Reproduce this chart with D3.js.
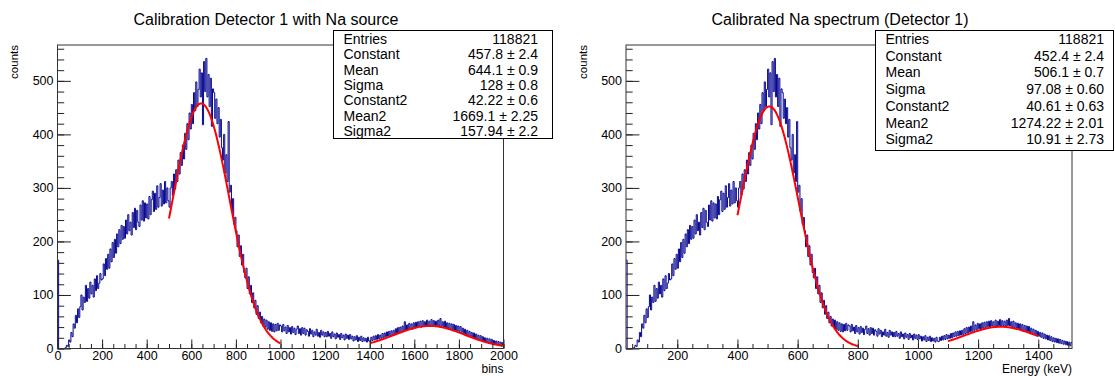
<!DOCTYPE html>
<html><head><meta charset="utf-8">
<script src="https://cdn.jsdelivr.net/npm/d3@7/dist/d3.min.js"></script>
<style>body{margin:0;background:#fff}svg{display:block;font-family:"Liberation Sans",Arial,Helvetica,sans-serif}</style>
</head><body><svg id="c" width="1115" height="376"></svg>
<script>
// ---------------- data ----------------
const binWidth = 5;           // bin units per value below
const counts = [
165,0,0,0,0,0,0,2,6,4,16,12,30,22,46,38,62,48,74,58,
78,100,72,96,86,118,88,112,94,124,102,118,96,130,108,136,112,122,140,128,
130,158,136,168,148,176,150,186,162,198,170,204,178,214,190,222,196,230,204,228,
206,240,214,250,220,236,212,254,226,262,222,258,236,228,268,240,276,238,272,244,
270,242,284,250,278,294,256,290,260,304,264,282,308,266,296,270,312,272,300,276,
264,300,312,286,326,298,334,312,352,326,366,342,380,354,402,372,420,390,440,410,
456,420,478,444,498,452,484,522,470,515,418,536,480,542,470,512,452,505,415,485,
478,430,466,420,450,395,428,375,352,400,328,362,312,424,292,305,256,280,232,245,
220,190,212,172,192,156,176,142,132,150,112,134,102,118,86,104,76,90,64,80,
56,68,48,60,42,55,40,53,36,50,34,48,32,46,31,45,33,47,34,44,
42,31,45,33,40,28,43,31,39,27,41,30,38,26,36,42,28,37,25,39,
28,38,25,35,32,23,37,27,34,22,31,25,36,23,30,21,34,25,31,22,
30,22,32,23,28,19,31,22,27,18,29,21,26,17,28,20,25,16,27,19,
25,17,26,18,23,14,22,16,24,13,21,15,23,13,20,14,19,12,21,14,
13,21,15,23,16,24,17,26,18,25,19,28,20,29,22,31,23,32,24,33,
25,34,26,37,28,39,29,40,31,42,32,50,34,44,35,47,37,46,36,48,
38,49,39,50,41,51,40,52,42,50,41,53,42,51,43,54,42,52,43,51,
42,53,43,56,42,50,40,51,39,48,38,47,37,46,35,45,34,43,33,42,
32,41,30,38,28,36,26,34,24,32,23,30,21,29,19,27,18,25,16,24,
15,22,13,20,12,19,11,18,10,17,9,15,8,14,7,13,6,12,5,11
];
const calib = [0.7413, 29.5];            // energy = slope*bin + offset

const leftFitConst = [457.8, 42.22];
const leftFitMean  = [644.1, 1669.1];
const leftFitSigma = [128, 157.94];
const leftFitRange = [[500, 1000], [1400, 2000]];

const rightFitConst = [452.4, 40.61];
const rightFitMean  = [506.1, 1274.22];
const rightFitSigma = [97.08, 118];
const rightFitRange = [[400, 800], [1100, 1400]];

const statNames  = ["Entries","Constant","Mean","Sigma","Constant2","Mean2","Sigma2"];
const statsLeft  = ["118821","457.8 \u00b1 2.4","644.1 \u00b1 0.9","128 \u00b1 0.8","42.22 \u00b1 0.6","1669.1 \u00b1 2.25","157.94 \u00b1 2.2"];
const statsRight = ["118821","452.4 \u00b1 2.4","506.1 \u00b1 0.7","97.08 \u00b1 0.60","40.61 \u00b1 0.63","1274.22 \u00b1 2.01","10.91 \u00b1 2.73"];

const yMajor = [0,100,200,300,400,500];
const yMinor = d3.range(0, 561, 20);
const xMajorLeft = [0,200,400,600,800,1000,1200,1400,1600,1800,2000];
const xMinorLeft = d3.range(0, 2001, 50);
const xMajorRight = [200,400,600,800,1000,1200,1400];
const xMinorRight = d3.range(50, 1501, 50);

// ---------------- drawing ----------------
const svg = d3.select("#c");
const plotTop = 45, plotBottom = 348.5;
const y = d3.scaleLinear().domain([0, 567]).range([plotBottom, plotTop]);
const nBins = counts.length;

function gauss(c, m, s) { return x => c * Math.exp(-0.5 * ((x - m) / s) ** 2); }

function panel(opt) {
  const g = svg.append("g");
  const x = d3.scaleLinear().domain(opt.domain).range([opt.x0, opt.x1]);
  const W = opt.x1 - opt.x0, H = plotBottom - plotTop;
  const clipId = "clip" + opt.id;
  svg.append("clipPath").attr("id", clipId).append("rect")
    .attr("x", opt.x0).attr("y", plotTop).attr("width", W).attr("height", H);

  // histogram (step line)
  const pts = counts.map((v, i) => [opt.toX(i * binWidth), v]);
  pts.push([opt.toX(nBins * binWidth), counts[nBins - 1]]);
  const line = d3.line().x(d => x(d[0])).y(d => y(d[1])).curve(d3.curveStepAfter);
  g.append("path").attr("d", line(pts)).attr("fill", "none")
    .attr("stroke", "#050590").attr("stroke-width", 1).attr("clip-path", `url(#${clipId})`);

  // fits
  opt.fits.forEach(f => {
    const fn = gauss(f.c, f.m, f.s);
    const xs = d3.range(f.r[0], f.r[1] + 0.001, (f.r[1] - f.r[0]) / 100);
    g.append("path").attr("d", d3.line().x(d => x(d)).y(d => y(fn(d)))(xs))
      .attr("fill", "none").attr("stroke", "#ff0000").attr("stroke-width", 2)
      .attr("clip-path", `url(#${clipId})`);
  });

  // axes
  const txtStyle = s => s.attr("font-size", 12.5).attr("fill", "#000")
      .attr("font-family", '"Liberation Sans",Arial,sans-serif');
  const xa = g.append("g").attr("transform", `translate(0,${plotBottom})`)
    .call(d3.axisBottom(x).tickValues(opt.xMajor).tickSize(-9).tickPadding(3).tickFormat(d3.format("d")));
  xa.select(".domain").remove();
  xa.selectAll("text").call(txtStyle);
  const xm = g.append("g").attr("transform", `translate(0,${plotBottom})`)
    .call(d3.axisBottom(x).tickValues(opt.xMinor).tickSize(-4.5).tickFormat(""));
  xm.select(".domain").remove();
  const ya = g.append("g").attr("transform", `translate(${opt.x0},0)`)
    .call(d3.axisLeft(y).tickValues(yMajor).tickSize(-13.4).tickPadding(4));
  ya.select(".domain").remove();
  ya.selectAll("text").call(txtStyle);
  const ym = g.append("g").attr("transform", `translate(${opt.x0},0)`)
    .call(d3.axisLeft(y).tickValues(yMinor).tickSize(-6.7).tickFormat(""));
  ym.select(".domain").remove();
  g.selectAll(".tick line").attr("stroke", "#222");

  // frame
  g.append("rect").attr("x", opt.x0).attr("y", plotTop).attr("width", W).attr("height", H)
    .attr("fill", "none").attr("stroke", "#333").attr("stroke-width", 1);

  // titles and labels
  g.append("text").attr("x", opt.titleX).attr("y", 25).attr("text-anchor", "middle")
    .attr("font-size", 16).text(opt.title);
  g.append("text").attr("transform", `translate(${opt.x0 - 39.5},${plotTop}) rotate(-90)`)
    .attr("text-anchor", "end").attr("font-size", 11.5).text("counts");
  g.append("text").attr("x", opt.x1).attr("y", 373).attr("text-anchor", "end")
    .attr("font-size", 12).text(opt.xLabel);

  // stats box
  const b = opt.box;
  const sb = g.append("g");
  sb.append("rect").attr("x", b.x).attr("y", b.y).attr("width", b.w).attr("height", b.h)
    .attr("fill", "#fff").attr("stroke", "#000").attr("stroke-width", 1);
  statNames.forEach((n, i) => {
    const ty = b.y + b.row0 + i * b.dy;
    sb.append("text").attr("x", b.x + 10).attr("y", ty).attr("font-size", 14).text(n);
    sb.append("text").attr("x", b.vx).attr("y", ty).attr("text-anchor", "end")
      .attr("font-size", 14).text(opt.stats[i]);
  });
}

panel({
  id: "L", x0: 57.5, x1: 503.5, domain: [0, 2000], toX: b => b,
  xMajor: xMajorLeft, xMinor: xMinorLeft, xLabel: "bins",
  title: "Calibration Detector 1 with Na source", titleX: 266,
  fits: leftFitConst.map((c, i) => ({c, m: leftFitMean[i], s: leftFitSigma[i], r: leftFitRange[i]})),
  stats: statsLeft,
  box: {x: 333.5, y: 30.5, w: 219, h: 108, row0: 13.5, dy: 15.3, vx: 538}
});
panel({
  id: "R", x0: 626, x1: 1072, domain: [calib[1], calib[0] * 2000 + calib[1]],
  toX: b => calib[0] * b + calib[1],
  xMajor: xMajorRight, xMinor: xMinorRight, xLabel: "Energy (keV)",
  title: "Calibrated Na spectrum (Detector 1)", titleX: 840,
  fits: rightFitConst.map((c, i) => ({c, m: rightFitMean[i], s: rightFitSigma[i], r: rightFitRange[i]})),
  stats: statsRight,
  box: {x: 875.5, y: 30.5, w: 238, h: 120, row0: 13.5, dy: 16.7, vx: 1104}
});
</script></body></html>
